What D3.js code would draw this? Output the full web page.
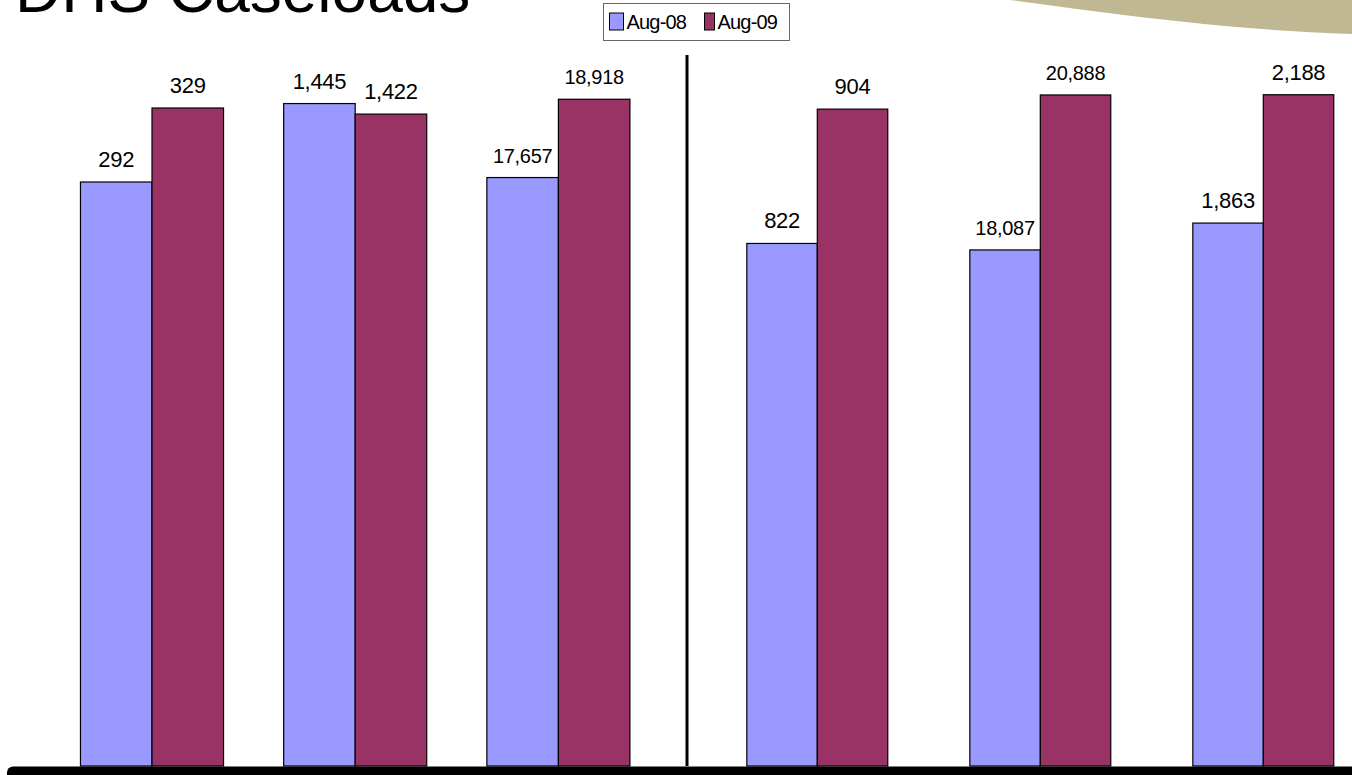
<!DOCTYPE html>
<html>
<head>
<meta charset="utf-8">
<script src="https://cdn.jsdelivr.net/npm/d3@7"></script>
<style>
  html, body { margin: 0; padding: 0; background: #fff; overflow: hidden; }
  svg { display: block; font-family: "Liberation Sans", Arial, sans-serif; }
</style>
</head>
<body>
<svg id="chart" width="1352" height="775"></svg>
<script>
// ---- data ----
const title = "DHS Caseloads";
const seriesNames = ["Aug-08", "Aug-09"];
const leftGroups = ["G1", "G2", "G3"];
const rightGroups = ["G4", "G5", "G6"];
const aug08 = [292, 1445, 17657, 822, 18087, 1863];
const aug09 = [329, 1422, 18918, 904, 20888, 2188];
// each small chart has its own value axis
const axisMin = [0, 0, 8180, 503, 8760, 488];
const axisMax = [353, 1540, 19550, 934, 21520, 2276];

const colors = ["#9999FF", "#993366"];

const W = 1352, H = 775;
const svg = d3.select("#chart");
const baseY = 766, topY = 60;

// tan decorative shape top-right
svg.append("path")
  .attr("d", "M1010,0 C1120,15 1230,30 1352,34 L1352,0 Z")
  .attr("fill", "#C0B892");

// title (partly off the top)
svg.append("text")
  .attr("x", 15).attr("y", 12)
  .attr("font-size", 64)
  .attr("fill", "#000")
  .text(title);

const fmt = d3.format(",");
const allGroups = leftGroups.concat(rightGroups);

function panel(groups, r0, r1, pi) {
  const x0 = d3.scaleBand().domain(groups).range([r0, r1])
    .paddingInner(pi).paddingOuter(pi / 2);
  const x1 = d3.scaleBand().domain(seriesNames).range([0, x0.bandwidth()]);
  groups.forEach(g => {
    const gi = allGroups.indexOf(g);
    const y = d3.scaleLinear().domain([axisMin[gi], axisMax[gi]]).range([baseY, topY]);
    const vals = [aug08[gi], aug09[gi]];
    const grp = svg.append("g").attr("transform", `translate(${x0(g)},0)`);
    grp.selectAll("rect").data(vals).join("rect")
      .attr("x", (d, i) => x1(seriesNames[i]))
      .attr("y", d => y(d))
      .attr("width", x1.bandwidth())
      .attr("height", d => baseY - y(d))
      .attr("fill", (d, i) => colors[i])
      .attr("stroke", "#000")
      .attr("stroke-width", 1.2);
    grp.selectAll("text").data(vals).join("text")
      .attr("x", (d, i) => x1(seriesNames[i]) + x1.bandwidth() / 2)
      .attr("y", d => y(d) - 15)
      .attr("text-anchor", "middle")
      .attr("font-size", d => fmt(d).length >= 6 ? 20 : 22)
      .attr("letter-spacing", d => fmt(d).length >= 6 ? "-0.3px" : "-0.3px")
      .attr("fill", "#000")
      .text(d => fmt(d));
  });
}
panel(leftGroups, 50.4, 660, 0.296);
panel(rightGroups, 705.8, 1374.8, 0.368);

// divider line
svg.append("line")
  .attr("x1", 687).attr("x2", 687)
  .attr("y1", 55).attr("y2", baseY)
  .attr("stroke", "#000").attr("stroke-width", 3);

// bottom thick bar
svg.append("rect")
  .attr("x", 7).attr("y", 766.5)
  .attr("width", 1400).attr("height", 30)
  .attr("rx", 6)
  .attr("fill", "#000");

// legend
const lg = svg.append("g");
lg.append("rect")
  .attr("x", 603.5).attr("y", 3.5).attr("width", 186).attr("height", 37)
  .attr("fill", "#fff").attr("stroke", "#666").attr("stroke-width", 1);
const legX = [609.5, 704.5];
const legW = [14, 10];
seriesNames.forEach((s, i) => {
  lg.append("rect")
    .attr("x", legX[i]).attr("y", 13).attr("width", legW[i]).attr("height", 17)
    .attr("fill", colors[i]).attr("stroke", "#000").attr("stroke-width", 1);
  lg.append("text")
    .attr("x", legX[i] + legW[i] + 3).attr("y", 28.5)
    .attr("font-size", 20).attr("letter-spacing", "-0.8px")
    .attr("fill", "#000")
    .text(s);
});
</script>
</body>
</html>
